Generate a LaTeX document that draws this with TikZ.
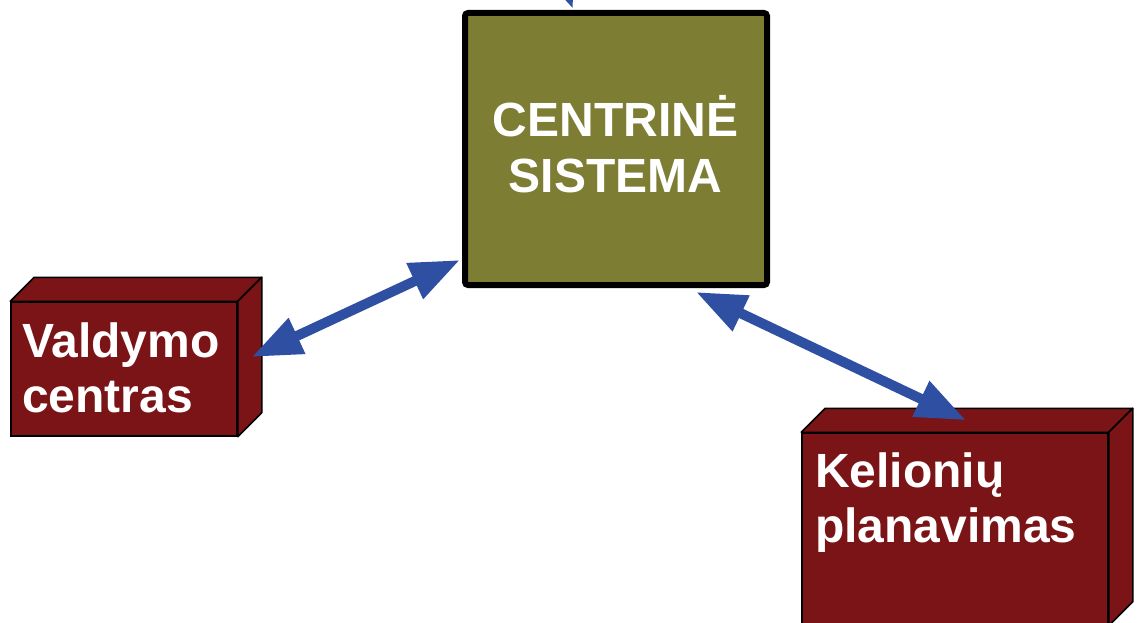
\documentclass[tikz,border=0pt]{standalone}
\usepackage{fontspec}
\setmainfont{Liberation Sans}
\usetikzlibrary{arrows.meta}

\definecolor{boxred}{RGB}{122,20,22}
\definecolor{coreolive}{RGB}{125,126,52}
\definecolor{linkblue}{RGB}{47,79,163}

\tikzset{
  bigfont/.style={font=\bfseries\fontsize{48pt}{55pt}\selectfont},
  core/.style={draw=black, line width=6pt, rounded corners=3pt, fill=coreolive,
    inner sep=0pt},
  front/.style={draw=black, line width=1.5pt, fill=boxred, inner sep=0pt},
  face/.style={draw=black, line width=1.5pt, fill=boxred, line join=round},
  caption/.style={bigfont, text=white, inner sep=0pt},
  link/.style={draw=linkblue, line width=10pt,
    arrows={Triangle[length=50pt, width=37pt]-Triangle[length=50pt, width=37pt]}},
  onelink/.style={draw=linkblue, line width=10pt,
    arrows={-Triangle[length=50pt, width=37pt]}}
}

% draws the top and right faces of a box behind its front node
\newcommand{\boxfaces}[1]{%
  \path[face] (#1.north west) -- ([shift={(24pt,24pt)}]#1.north west)
    -- ([shift={(24pt,24pt)}]#1.north east) -- (#1.north east) -- cycle;
  \path[face] (#1.north east) -- ([shift={(24pt,24pt)}]#1.north east)
    -- ([shift={(24pt,24pt)}]#1.south east) -- (#1.south east) -- cycle;
}

\begin{document}
\begin{tikzpicture}[x=1pt, y=-1pt]
  \useasboundingbox (0,0) rectangle (1138,623);
  \clip (0,0) rectangle (1138,623);
  \fill[white] (0,0) rectangle (1138,623);

  % front faces
  \node[front, minimum width=226pt, minimum height=134pt] (vc) at (124,369) {};
  \node[front, minimum width=306pt, minimum height=192pt] (kp) at (955,529) {};
  \boxfaces{vc}
  \boxfaces{kp}

  % incoming link from above, cut by the picture edge
  \coordinate (above) at (538,-85);
  \coordinate (coretop) at (573,9);
  \draw[onelink] (above) -- (coretop);

  % central system
  \node[core, minimum width=302pt, minimum height=272pt] (cs) at (616,149) {};

  % labels (anchored at the baseline of the last line)
  \node[caption, anchor=base, align=center] (cstext) at (615.5,192)
    {CENTRINĖ\\SISTEMA};
  \node[caption, anchor=base west, align=left] (vctext) at (22,412)
    {Valdymo\\centras};
  \node[caption, anchor=base west, align=left] (kptext) at (815,542)
    {Kelionių\\planavimas};

  % two-way links
  \draw[link] ([xshift=14pt, yshift=12pt]vc.east)
    -- ([xshift=-2pt, yshift=28pt]cs.south west);
  \draw[link] ([xshift=80pt, yshift=-4pt]cs.south)
    -- ([xshift=11pt, yshift=12pt]kp.north);
\end{tikzpicture}
\end{document}
